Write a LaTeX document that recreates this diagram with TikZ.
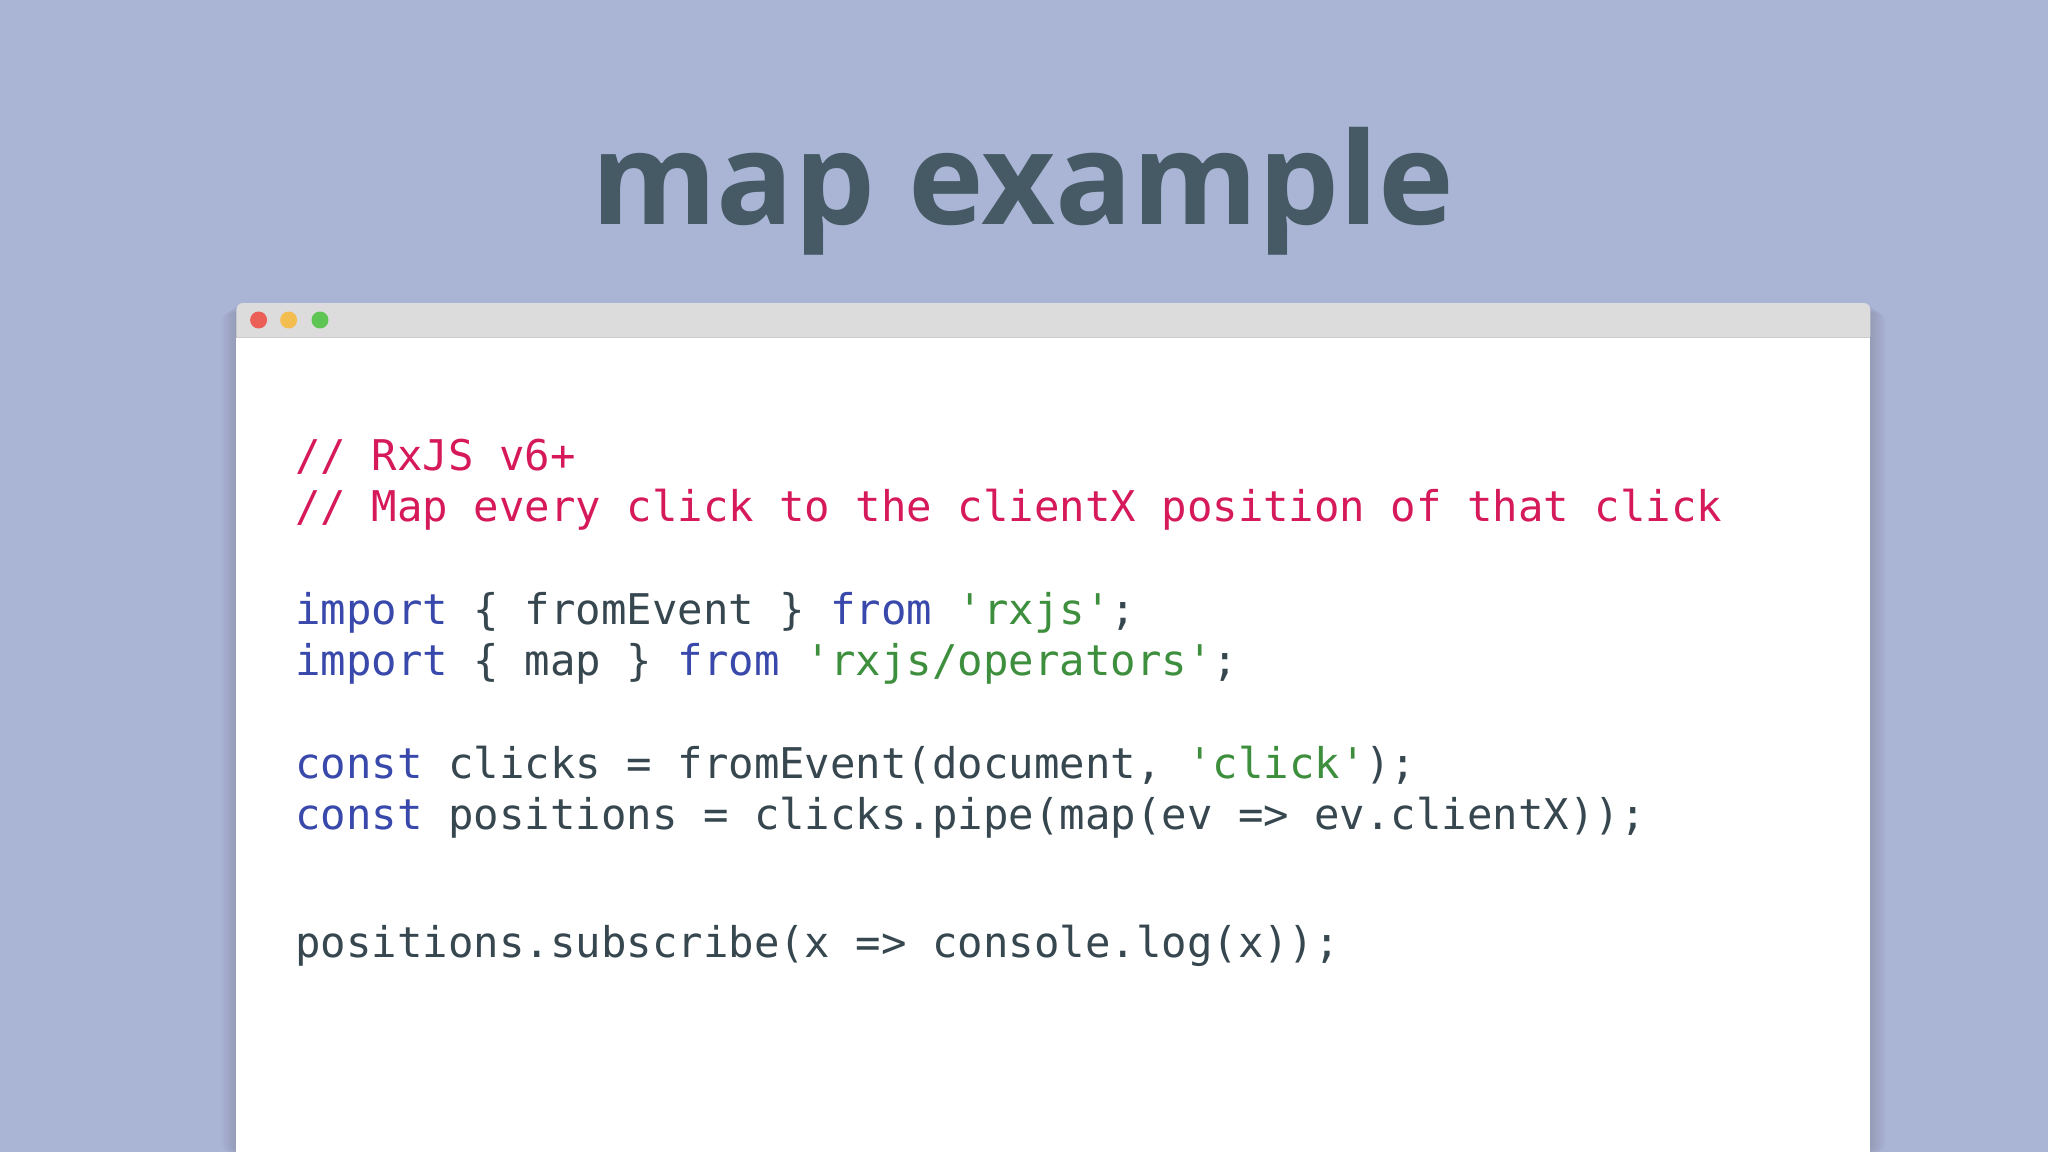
\documentclass[tikz,border=0pt]{standalone}
\usepackage{fontspec}
\setmainfont{Liberation Sans}
\newfontfamily\codefont{DejaVu Sans Mono}
\newfontfamily\titlefont{Open Sans}
\definecolor{bg}{HTML}{AAB5D6}
\definecolor{titlec}{HTML}{455A64}
\definecolor{cmt}{HTML}{D6195A}
\definecolor{kw}{HTML}{3949AB}
\definecolor{str}{HTML}{3D8F3D}
\definecolor{txt}{HTML}{37474F}
\definecolor{bar}{HTML}{DCDCDC}
\definecolor{dred}{HTML}{EC5F57}
\definecolor{dyel}{HTML}{F3BD4F}
\definecolor{dgrn}{HTML}{5FC552}
\newcommand{\K}[1]{\textcolor{kw}{#1}}
\newcommand{\Sg}[1]{\textcolor{str}{#1}}
\begin{document}
\begin{tikzpicture}[x=1pt,y=-1pt,
 codeline/.style={anchor=base west,inner sep=0,text=txt,font=\codefont\fontsize{32.4}{36}\selectfont}]
\fill[bg] (0,0) rectangle (1568,882);
\useasboundingbox (0,0) rectangle (1568,882);
\foreach \i in {1,...,10}{
 \fill[black,opacity=0.012,rounded corners=6pt] (181-\i*1.2,232+\i*0.8) rectangle (1432+\i*1.2,882);}
\node[anchor=base,inner sep=0,text=titlec,font=\titlefont\bfseries\fontsize{98}{100}\selectfont] (title) at (783,172) {map example};
\fill[bar,rounded corners=5pt] (181,232) rectangle (1432,262);
\draw[black!20] (181,258) -- (1432,258);
\fill[white] (181,258.5) rectangle (1432,882);
\fill[dred] (198,245) circle (6.5);
\fill[dyel] (221,245) circle (6.5);
\fill[dgrn] (245,245) circle (6.5);
\node[codeline,text=cmt] (c1) at (226,360) {// RxJS v6+};
\node[codeline,text=cmt] (c2) at (226,399) {// Map every click to the clientX position of that click};
\node[codeline] (l3) at (226,478) {\K{import} \{ fromEvent \} \K{from} \Sg{'rxjs'};};
\node[codeline] (l4) at (226,517) {\K{import} \{ map \} \K{from} \Sg{'rxjs/operators'};};
\node[codeline] (l5) at (226,596) {\K{const} clicks = fromEvent(document, \Sg{'click'});};
\node[codeline] (l6) at (226,635) {\K{const} positions = clicks.pipe(map(ev => ev.clientX));};
\node[codeline] (l7) at (226,733) {positions.subscribe(x => console.log(x));};
\end{tikzpicture}
\end{document}
